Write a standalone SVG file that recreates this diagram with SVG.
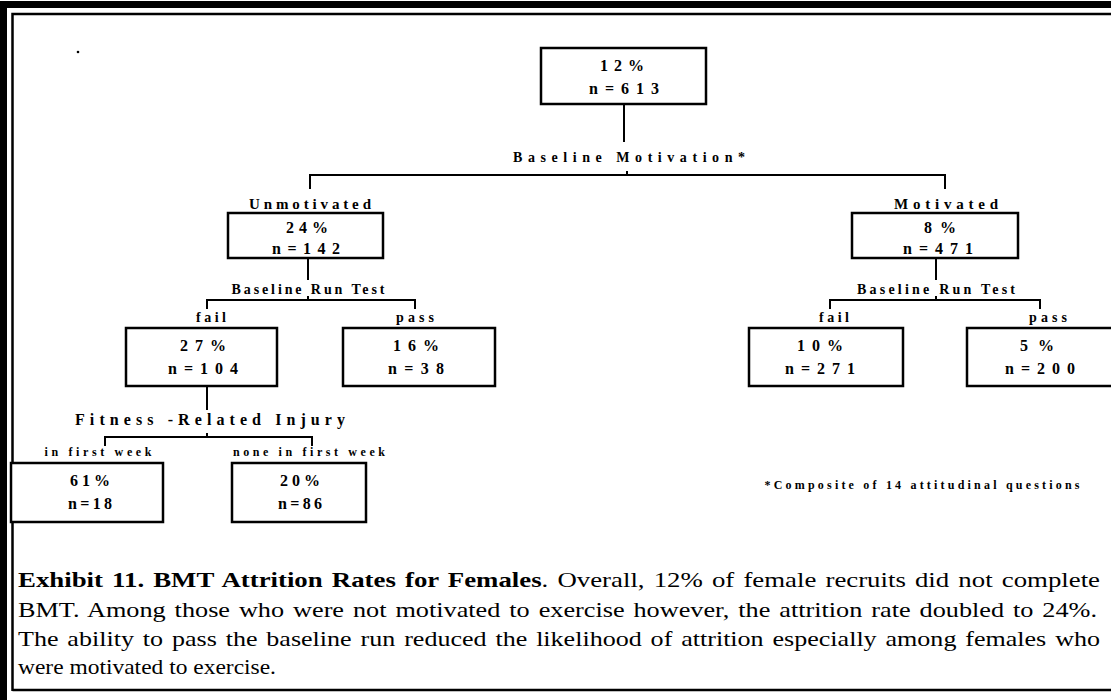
<svg xmlns="http://www.w3.org/2000/svg" width="1111" height="700" viewBox="0 0 1111 700">
<style>
.box{fill:#fff;stroke:#000;stroke-width:2.5}
.ln{stroke:#000;stroke-width:2;fill:none}
.num{font-family:"Liberation Serif",serif;font-weight:bold;font-size:16px;text-anchor:middle;fill:#000}
.lab{font-family:"Liberation Serif",serif;font-weight:bold;font-size:14px;text-anchor:middle;fill:#000}
.cap{font-family:"Liberation Serif",serif;font-size:22px;fill:#000;word-spacing:2px}
</style>
<rect width="1111" height="700" fill="#fff"/>
<g id="frame">
<rect x="0" y="1" width="7" height="699" fill="#000"/>
<rect x="0" y="1" width="1111" height="7" fill="#000"/>
<path d="M12.5 691 V14 H1111 M12.5 690 H1111" stroke="#000" stroke-width="2.5" fill="none"/>
<circle cx="78" cy="52" r="1.3" fill="#000"/>
</g>
<g id="connectors">
<path class="ln" d="M624 104 V142"/>
<path class="ln" d="M310 189 V175 H945 V189 M627 175 V171"/>
<path class="ln" d="M308 258 V280"/>
<path class="ln" d="M207 309 V300 H415 V309 M308 300 V296"/>
<path class="ln" d="M936 258 V280"/>
<path class="ln" d="M830 309 V300 H1040 V309 M936 300 V296"/>
<path class="ln" d="M207 386 V410"/>
<path class="ln" d="M105 446 V437 H312 V446 M207 437 V433"/>
</g>
<g id="n0">
<rect class="box" x="541" y="48" width="165" height="56"/>
<text class="num" x="622" y="71" textLength="44" lengthAdjust="spacing">12%</text>
<text class="num" x="624" y="94" textLength="70" lengthAdjust="spacing">n=613</text>
</g>
<text class="lab" x="629" y="162" textLength="232" lengthAdjust="spacing">Baseline Motivation*</text>
<g id="n1">
<text class="lab" x="310" y="209" textLength="122" lengthAdjust="spacing" style="font-size:15px">Unmotivated</text>
<rect class="box" x="228" y="213" width="155" height="45"/>
<text class="num" x="307" y="233" textLength="42" lengthAdjust="spacing">24%</text>
<text class="num" x="306" y="254" textLength="68" lengthAdjust="spacing">n=142</text>
</g>
<text class="lab" x="308" y="294" textLength="153" lengthAdjust="spacing">Baseline Run Test</text>
<g id="n2">
<text class="lab" x="946" y="209" textLength="104" lengthAdjust="spacing" style="font-size:15px">Motivated</text>
<rect class="box" x="852" y="213" width="166" height="45"/>
<text class="num" x="940" y="233" textLength="32" lengthAdjust="spacing">8%</text>
<text class="num" x="938" y="254" textLength="70" lengthAdjust="spacing">n=471</text>
</g>
<text class="lab" x="936" y="294" textLength="158" lengthAdjust="spacing">Baseline Run Test</text>
<g id="n3">
<text class="lab" x="211" y="322" textLength="30" lengthAdjust="spacing">fail</text>
<rect class="box" x="126" y="328" width="151" height="58"/>
<text class="num" x="203" y="351" textLength="46" lengthAdjust="spacing">27%</text>
<text class="num" x="203" y="374" textLength="70" lengthAdjust="spacing">n=104</text>
</g>
<g id="n4">
<text class="lab" x="415" y="322" textLength="38" lengthAdjust="spacing">pass</text>
<rect class="box" x="343" y="328" width="152" height="58"/>
<text class="num" x="416" y="351" textLength="46" lengthAdjust="spacing">16%</text>
<text class="num" x="416" y="374" textLength="56" lengthAdjust="spacing">n=38</text>
</g>
<g id="n5">
<text class="lab" x="834" y="322" textLength="30" lengthAdjust="spacing">fail</text>
<rect class="box" x="749" y="328" width="154" height="58"/>
<text class="num" x="820" y="351" textLength="46" lengthAdjust="spacing">10%</text>
<text class="num" x="820" y="374" textLength="70" lengthAdjust="spacing">n=271</text>
</g>
<g id="n6">
<text class="lab" x="1048" y="322" textLength="38" lengthAdjust="spacing">pass</text>
<rect class="box" x="967" y="328" width="160" height="58"/>
<text class="num" x="1037" y="351" textLength="34" lengthAdjust="spacing">5%</text>
<text class="num" x="1040" y="374" textLength="70" lengthAdjust="spacing">n=200</text>
</g>
<text class="lab" x="210" y="425" textLength="270" lengthAdjust="spacing" style="font-size:16px">Fitness -Related Injury</text>
<g id="n7">
<text class="lab" x="98" y="456" textLength="107" lengthAdjust="spacing" style="font-size:12px">in first week</text>
<rect class="box" x="11" y="463" width="152" height="59"/>
<text class="num" x="90" y="486" textLength="40" lengthAdjust="spacing">61%</text>
<text class="num" x="90" y="509" textLength="44" lengthAdjust="spacing">n=18</text>
</g>
<g id="n8">
<text class="lab" x="309" y="456" textLength="152" lengthAdjust="spacing" style="font-size:12px">none in first week</text>
<rect class="box" x="232" y="463" width="134" height="59"/>
<text class="num" x="300" y="486" textLength="40" lengthAdjust="spacing">20%</text>
<text class="num" x="300" y="509" textLength="44" lengthAdjust="spacing">n=86</text>
</g>
<text class="lab" x="922" y="489" textLength="315" lengthAdjust="spacing" style="font-size:12px">*Composite of 14 attitudinal questions</text>
<g id="caption">
<text class="cap" x="18" y="587" textLength="1082" lengthAdjust="spacingAndGlyphs"><tspan font-weight="bold">Exhibit 11. BMT Attrition Rates for Females</tspan>. Overall, 12% of female recruits did not complete</text>
<text class="cap" x="18" y="617" textLength="1079" lengthAdjust="spacingAndGlyphs">BMT. Among those who were not motivated to exercise however, the attrition rate doubled to 24%.</text>
<text class="cap" x="18" y="646" textLength="1082" lengthAdjust="spacingAndGlyphs">The ability to pass the baseline run reduced the likelihood of attrition especially among females who</text>
<text class="cap" x="18" y="674" textLength="258" lengthAdjust="spacingAndGlyphs" style="word-spacing:0">were motivated to exercise.</text>
</g>
</svg>
